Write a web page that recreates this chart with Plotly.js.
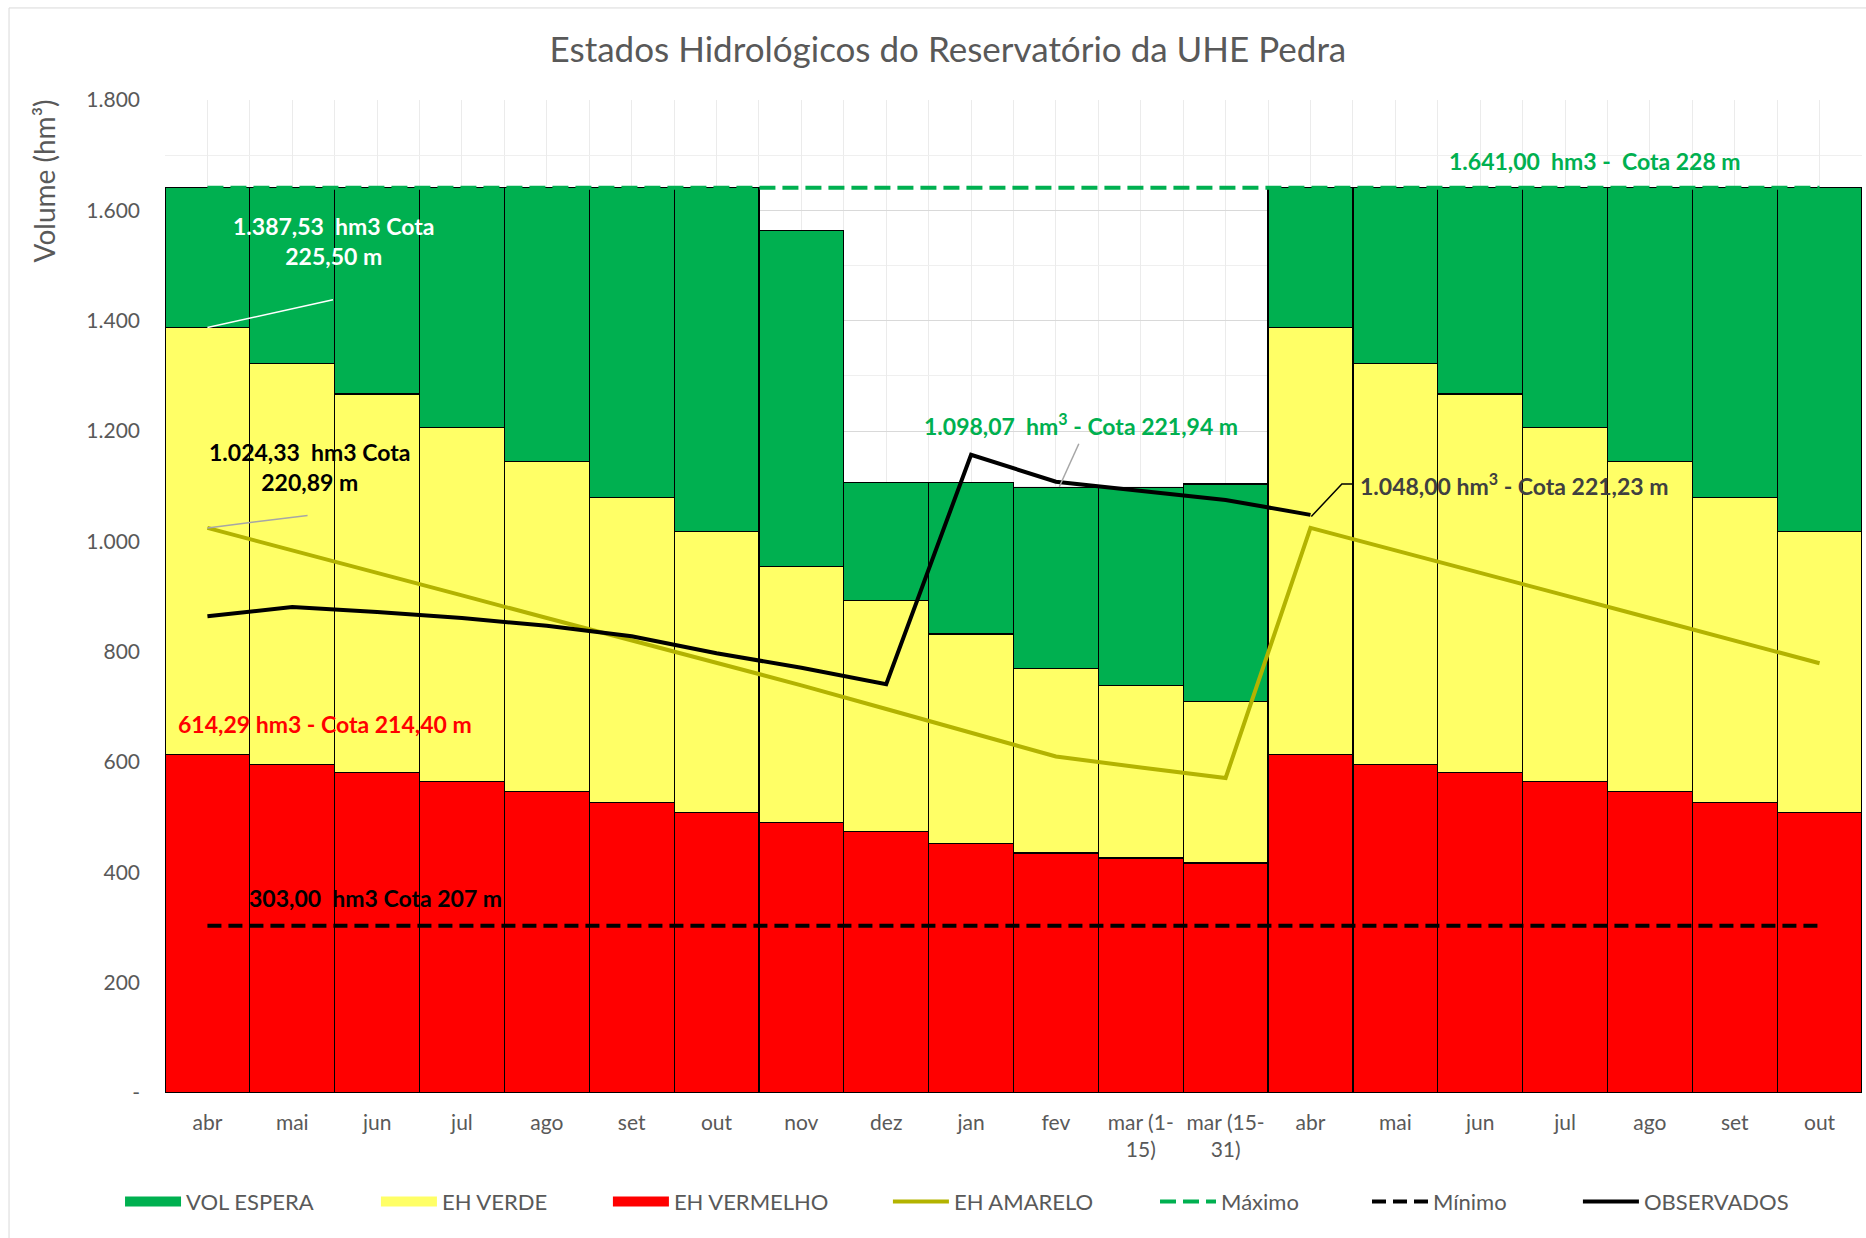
<!DOCTYPE html>
<html><head><meta charset="utf-8">
<script src="https://cdn.plot.ly/plotly-3.0.1.min.js"></script>
<style>html,body{margin:0;padding:0;background:#fff}#chart{width:1866px;height:1238px}</style>
</head><body><div id="chart"></div>
<script>
// ---- data ----
const categories = ['abr','mai','jun','jul','ago','set','out','nov','dez','jan','fev','mar (1-<br>15)','mar (15-<br>31)','abr','mai','jun','jul','ago','set','out'];
// upper limits of each band (hm³)
const ehVermelhoTop = [614.29, 596, 581, 564, 546, 526, 508, 491, 474, 452, 435, 426, 417, 614.29, 596, 581, 564, 546, 526, 508];
const ehVerdeTop    = [1387.53, 1323, 1267, 1206, 1145, 1080, 1018, 954, 893, 832, 770, 739, 709, 1387.53, 1323, 1267, 1206, 1145, 1080, 1018];
const volEsperaTop  = [1641, 1641, 1641, 1641, 1641, 1641, 1641, 1563, 1107, 1107, 1098.07, 1098.07, 1104, 1641, 1641, 1641, 1641, 1641, 1641, 1641];
const ehAmarelo     = [1024.33, 983, 942, 902, 861, 820, 779, 739, 696, 653, 610, 590, 571, 1024.33, 983, 942, 902, 861, 820, 779];
const observados    = [864, 881, 872, 861, 847, 828, 797, 771, 741, 1157, 1108, 1092, 1075, 1048, null, null, null, null, null, null];
const maximoVal = 1641;
const minimoVal = 303;
const yTickVals = [0, 200, 400, 600, 800, 1000, 1200, 1400, 1600, 1800];
const yTickText = ['-', '200', '400', '600', '800', '1.000', '1.200', '1.400', '1.600', '1.800'];

// ---- derived ----
const idx = categories.map((c, i) => i);
const ehVermelho = ehVermelhoTop.slice();
const ehVerde = ehVerdeTop.map((v, i) => v - ehVermelhoTop[i]);
const volEspera = volEsperaTop.map((v, i) => v - ehVerdeTop[i]);
const maximo = categories.map(() => maximoVal);
const minimo = categories.map(() => minimoVal);

const FONT = 'Lato, "Open Sans", sans-serif';
const GREY = '#595959';
const barLine = {color: '#000000', width: 1.2};
const C_GREEN = '#00B050', C_YELLOW = '#FFFF66', C_RED = '#FF0000', C_OLIVE = '#B3B300';

const traces = [
  {type: 'bar', name: 'EH VERMELHO', x: idx, y: ehVermelho, width: 1,
   marker: {color: C_RED, line: barLine}, showlegend: false},
  {type: 'bar', name: 'EH VERDE', x: idx, y: ehVerde, width: 1,
   marker: {color: C_YELLOW, line: barLine}, showlegend: false},
  {type: 'bar', name: 'VOL ESPERA', x: idx, y: volEspera, width: 1,
   marker: {color: C_GREEN, line: barLine}, showlegend: false},
  {type: 'scatter', mode: 'lines', name: 'EH AMARELO', x: idx, y: ehAmarelo,
   line: {color: C_OLIVE, width: 4}, legend: 'legend4'},
  {type: 'scatter', mode: 'lines', name: 'Máximo', x: idx, y: maximo,
   line: {color: C_GREEN, width: 4, dash: '16px,7px'}, legend: 'legend5'},
  {type: 'scatter', mode: 'lines', name: 'Mínimo', x: idx, y: minimo,
   line: {color: '#000000', width: 4, dash: '14px,7px'}, legend: 'legend6'},
  {type: 'scatter', mode: 'lines', name: 'OBSERVADOS', x: idx, y: observados,
   line: {color: '#000000', width: 4}, connectgaps: false, legend: 'legend7'},
  // legend keys for the stacked bands (wide boxes like the original)
  {type: 'scatter', mode: 'lines', name: 'VOL ESPERA', x: [null], y: [null],
   line: {color: C_GREEN, width: 15}, legend: 'legend', hoverinfo: 'skip'},
  {type: 'scatter', mode: 'lines', name: 'EH VERDE', x: [null], y: [null],
   line: {color: C_YELLOW, width: 15}, legend: 'legend2', hoverinfo: 'skip'},
  {type: 'scatter', mode: 'lines', name: 'EH VERMELHO', x: [null], y: [null],
   line: {color: C_RED, width: 15}, legend: 'legend3', hoverinfo: 'skip'}
];

const annFont = (c) => ({family: FONT, size: 23, color: c});
const annotations = [
  {xref: 'paper', yref: 'paper', x: -0.0713, y: 0.918, xanchor: 'center', yanchor: 'middle',
   text: 'Volume (hm³)', textangle: -90, showarrow: false, font: {family: FONT, size: 28, color: GREY}},
  {x: 1.48, y: 1544, text: '<b>1.387,53  hm3 Cota</b><br><b>225,50 m</b>', showarrow: false, font: annFont('#FFFFFF')},
  {x: 1.20, y: 1134, text: '<b>1.024,33  hm3 Cota</b><br><b>220,89 m</b>', showarrow: false, font: annFont('#000000')},
  {x: 1.386, y: 668, text: '<b>614,29 hm3 - Cota 214,40 m</b>', showarrow: false, font: annFont('#FF0000')},
  {x: 1.975, y: 353, text: '<b>303,00  hm3 Cota 207 m</b>', showarrow: false, font: annFont('#000000')},
  {x: 10.29, y: 1211, text: '<b>1.098,07  hm<sup>3</sup> - Cota 221,94 m</b>', showarrow: false, font: annFont(C_GREEN)},
  {x: 13.56, y: 1103, xanchor: 'left', text: '<b>1.048,00 hm<sup>3</sup> - Cota 221,23 m</b>', showarrow: false, font: annFont('#404040')},
  {x: 16.35, y: 1690, text: '<b>1.641,00  hm3 -  Cota 228 m</b>', showarrow: false, font: annFont(C_GREEN)}
];

const shapes = [
  // chart frame
  {type: 'rect', xref: 'paper', yref: 'paper', x0: -0.0919, x1: 1.02, y0: -0.25, y1: 1.0927,
   line: {color: '#D9D9D9', width: 1}, layer: 'below'},
  // leader lines
  {type: 'line', xref: 'x', yref: 'y', x0: 0, y0: 1387.53, x1: 1.48, y1: 1438, line: {color: '#FFFFFF', width: 1.5}},
  {type: 'line', xref: 'x', yref: 'y', x0: 0, y0: 1024.33, x1: 1.18, y1: 1047, line: {color: '#A6A6A6', width: 1.5}},
  {type: 'line', xref: 'x', yref: 'y', x0: 10.27, y0: 1177, x1: 10.04, y1: 1099, line: {color: '#A6A6A6', width: 1.5}},
  {type: 'path', xref: 'x', yref: 'y', path: 'M13.01,1045 L13.37,1104 L13.49,1104', line: {color: '#000000', width: 1.5}}
];

// legend item positions (paper x of each key's left edge)
const legendX = [-0.0265, 0.1243, 0.2610, 0.4260, 0.5834, 0.7083, 0.8326];
const legendBase = (x) => ({orientation: 'h', x: x, xanchor: 'left', y: -0.1094, yanchor: 'middle',
  font: {family: FONT, size: 22, color: GREY}, itemwidth: 56, bgcolor: 'rgba(0,0,0,0)'});

const layout = {
  width: 1866, height: 1238,
  paper_bgcolor: '#FFFFFF', plot_bgcolor: '#FFFFFF',
  margin: {l: 165, r: 4, t: 100, b: 145},
  font: {family: FONT, color: GREY},
  title: {text: 'Estados Hidrológicos do Reservatório da UHE Pedra', xref: 'container', x: 0.508,
          yref: 'container', y: 0.9596, xanchor: 'center', yanchor: 'middle',
          font: {family: FONT, size: 35, color: GREY}},
  barmode: 'stack', bargap: 0,
  xaxis: {type: 'linear', range: [-0.5, 19.5], tickmode: 'array', tickvals: idx, ticktext: categories,
          ticks: '', ticklabelstandoff: 15, tickfont: {family: FONT, size: 21, color: GREY},
          showgrid: true, gridcolor: '#EBEBEB', gridwidth: 1, zeroline: false, showline: false,
          minor: {tickmode: 'linear', tick0: 0.5, dtick: 1, showgrid: true, gridcolor: '#EBEBEB', gridwidth: 1}},
  yaxis: {range: [0, 1800], tickmode: 'array', tickvals: yTickVals, ticktext: yTickText,
          ticks: '', ticklabelstandoff: 24, tickfont: {family: FONT, size: 21, color: GREY},
          showgrid: true, gridcolor: '#D9D9D9', gridwidth: 1, zeroline: false, showline: false,
          minor: {tickmode: 'linear', tick0: 0, dtick: 100, showgrid: true, gridcolor: '#EFEFEF', gridwidth: 1}},
  showlegend: true,
  legend: legendBase(legendX[0]),
  legend2: legendBase(legendX[1]),
  legend3: legendBase(legendX[2]),
  legend4: legendBase(legendX[3]),
  legend5: legendBase(legendX[4]),
  legend6: legendBase(legendX[5]),
  legend7: legendBase(legendX[6]),
  annotations: annotations,
  shapes: shapes
};

Plotly.newPlot('chart', traces, layout, {displayModeBar: false, staticPlot: true});
</script>
</body></html>
